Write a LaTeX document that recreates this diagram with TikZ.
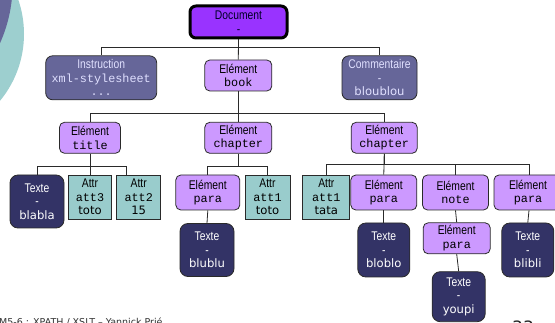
\documentclass[tikz,border=0pt]{standalone}
\usepackage{fontspec}
\setmainfont{Liberation Sans}
\newfontfamily\narrowf[FakeStretch=0.82]{Liberation Sans}
\newfontfamily\monof{Liberation Mono}
\newfontfamily\valf{DejaVu Sans}
\newcommand\kindtxt[1]{{\narrowf\fontsize{12.6}{13.5}\selectfont #1}}
\newcommand\codetxt[1]{{\monof\fontsize{11.8}{13.5}\selectfont #1}}
\newcommand\valtxt[1]{{\valf\fontsize{11.6}{13.5}\selectfont #1}}

\definecolor{docc}{HTML}{9933FF}
\definecolor{elemc}{HTML}{CC99FF}
\definecolor{miscc}{HTML}{666699}
\definecolor{textc}{HTML}{333366}
\definecolor{attrc}{HTML}{99CCCC}
\definecolor{decoteal}{HTML}{9DCFCF}
\definecolor{decopurple}{HTML}{666699}
\definecolor{edgec}{HTML}{2A2A2A}

\tikzset{
  box/.style={draw=edgec, line width=0.8pt, inner sep=0pt, align=center,
    font=\fontsize{11.5}{13.5}\selectfont},
  docbox/.style={box, fill=docc, line width=3pt, draw=black, rounded corners=6pt, text=black!85!blue},
  elembox/.style={box, fill=elemc, rounded corners=5pt, text=black},
  miscbox/.style={box, fill=miscc, rounded corners=7pt, text=white!88!blue},
  textebox/.style={box, fill=textc, rounded corners=8pt, text=white},
  attrbox/.style={box, fill=attrc, text=black},
  link/.style={draw=edgec, line width=0.8pt},
}

\begin{document}
\begin{tikzpicture}[x=1pt,y=-1pt]
\clip (0,0) rectangle (555,323);
\fill[white] (0,0) rectangle (555,323);

% slide decoration in the corner
\fill[decoteal] (-81,34) circle (105);
\fill[decopurple] (-134.5,-16.7) circle (147.2);

% bar heights of the tree levels
\coordinate (barA) at (0,47);
\coordinate (barB) at (0,113.3);
\coordinate (barC) at (0,166.7);
\coordinate (barD) at (0,164.3);

% root
\node[docbox, minimum width=97, minimum height=32] (doc) at (238.5,22)
  {\kindtxt{Document}\\\kindtxt{-}};

% level 1
\node[miscbox, minimum width=111, minimum height=44] (instr) at (101.2,77.8)
  {\kindtxt{Instruction}\\\codetxt{xml-stylesheet}\\\codetxt{...}};
\node[elembox, minimum width=67, minimum height=31] (book) at (238.3,75.5)
  {\kindtxt{Elément}\\\codetxt{book}};
\node[miscbox, minimum width=75, minimum height=44] (comm) at (379.5,77.8)
  {\kindtxt{Commentaire}\\\kindtxt{-}\\\valtxt{bloublou}};

% level 2
\node[elembox, minimum width=61, minimum height=31] (title) at (90,137.8)
  {\kindtxt{Elément}\\\codetxt{title}};
\node[elembox, minimum width=67, minimum height=31] (chapA) at (238.3,137.8)
  {\kindtxt{Elément}\\\codetxt{chapter}};
\node[elembox, minimum width=66, minimum height=31] (chapB) at (384.2,137.8)
  {\kindtxt{Elément}\\\codetxt{chapter}};

% level 3
\node[textebox, minimum width=54, minimum height=53] (blabla) at (37,201.5)
  {\kindtxt{Texte}\\\kindtxt{-}\\\valtxt{blabla}};
\node[attrbox, minimum width=43, minimum height=44] (attA) at (90,197)
  {\kindtxt{Attr}\\\codetxt{att3}\\\valtxt{toto}};
\node[attrbox, minimum width=44, minimum height=44] (attB) at (138.7,197)
  {\kindtxt{Attr}\\\codetxt{att2}\\\valtxt{15}};
\node[elembox, minimum width=64, minimum height=35] (paraA) at (207.8,192.5)
  {\kindtxt{Elément}\\\codetxt{para}};
\node[attrbox, minimum width=45, minimum height=44] (attC) at (267.5,197)
  {\kindtxt{Attr}\\\codetxt{att1}\\\valtxt{toto}};
\node[attrbox, minimum width=47, minimum height=44] (attD) at (326.3,197)
  {\kindtxt{Attr}\\\codetxt{att1}\\\valtxt{tata}};
\node[elembox, minimum width=66, minimum height=35] (paraB) at (383.8,192.5)
  {\kindtxt{Elément}\\\codetxt{para}};
\node[elembox, minimum width=66, minimum height=35] (note) at (455.5,192.5)
  {\kindtxt{Elément}\\\codetxt{note}};
\node[elembox, minimum width=68, minimum height=35] (paraC) at (528,192.5)
  {\kindtxt{Elément}\\\codetxt{para}};

% level 4
\node[textebox, minimum width=54, minimum height=53] (blublu) at (207,250)
  {\kindtxt{Texte}\\\kindtxt{-}\\\valtxt{blublu}};
\node[textebox, minimum width=52, minimum height=54] (bloblo) at (383.8,250)
  {\kindtxt{Texte}\\\kindtxt{-}\\\valtxt{bloblo}};
\node[elembox, minimum width=67, minimum height=31] (paraD) at (456.7,238.3)
  {\kindtxt{Elément}\\\codetxt{para}};
\node[textebox, minimum width=52, minimum height=54] (blibli) at (527.8,250)
  {\kindtxt{Texte}\\\kindtxt{-}\\\valtxt{blibli}};

% level 5
\node[textebox, minimum width=53, minimum height=50] (youpi) at (458.7,296.7)
  {\kindtxt{Texte}\\\kindtxt{-}\\\valtxt{youpi}};

% connectors
\draw[link] (doc.south) -- (doc.south |- barA) -| (instr.north);
\draw[link] (doc.south) -- (book.north);
\draw[link] (doc.south |- barA) -| (comm.north);

\draw[link] (book.south) -- (book.south |- barB) -| (title.north);
\draw[link] (book.south) -- (chapA.north);
\draw[link] (book.south |- barB) -| (chapB.north);

\draw[link] (title.south) -- (title.south |- barC) -| (blabla.north);
\draw[link] (title.south) -- (attA.north);
\draw[link] (title.south |- barC) -| ([xshift=-12.7pt]attB.north);

\draw[link] (chapA.south) -- (chapA.south |- barC) -| (paraA.north);
\draw[link] (chapA.south |- barC) -| (attC.north);

\draw[link] (chapB.south) -- (chapB.south |- barD) -| (attD.north);
\draw[link] (chapB.south) -- (paraB.north);
\draw[link] (chapB.south |- barD) -| (note.north);
\draw[link] (chapB.south |- barD) -| ([xshift=1pt]paraC.north);

\draw[link] (paraA.south) -- (blublu.north);
\draw[link] (paraB.south) -- (bloblo.north);
\draw[link] (note.south) -- (paraD.north);
\draw[link] (paraD.south) -- (youpi.north);
\draw[link] ([xshift=1pt]paraC.south) -- (blibli.north);

% footer, running off the lower edge
\node[anchor=base west, inner sep=0pt, text=black!80,
  font=\valf\fontsize{9.5}{11}\selectfont] (foot) at (-1,325.5)
  {M5-6 : XPATH / XSLT – Yannick Prié};
\node[anchor=north west, inner sep=0pt, text=black!85,
  font=\valf\fontsize{17}{20}\selectfont] (pagenum) at (512,320.3) {33};
\end{tikzpicture}
\end{document}
